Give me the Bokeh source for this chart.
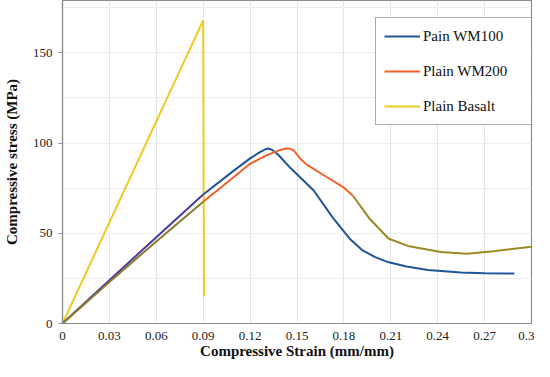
from bokeh.plotting import figure
from bokeh.models import Range1d, FixedTicker, Legend, LegendItem
from bokeh.embed import file_html
from bokeh.resources import INLINE

# Data (strain mm/mm, stress MPa)
wm100_x = [0, 0.03, 0.06, 0.09, 0.11, 0.12, 0.126, 0.13, 0.1315, 0.134, 0.138, 0.146, 0.1607, 0.173,
           0.1837, 0.192, 0.2, 0.2087, 0.22, 0.2337, 0.2547, 0.27, 0.289]
wm100_y = [0, 24, 47.8, 71.5, 85, 91.5, 94.8, 96.6, 97, 96.3, 93.5, 86, 73.7, 58.5,
           47, 40.5, 36.8, 33.9, 31.6, 29.7, 28.2, 27.8, 27.7]

wm200_x = [0, 0.03, 0.06, 0.09, 0.11, 0.12, 0.13, 0.138, 0.142, 0.145, 0.148, 0.152, 0.1565, 0.169,
           0.1795, 0.1858, 0.191, 0.196, 0.2087, 0.221, 0.242, 0.2588, 0.2755, 0.2985, 0.3]
wm200_y = [0, 23, 45.5, 67.5, 81.5, 88.5, 93, 95.8, 96.8, 97, 95.8, 91.5, 87.9, 81.2,
           75.6, 70.8, 64.5, 58.5, 47, 43, 39.6, 38.6, 40, 42.4, 42.6]

basalt_x = [0, 0.09, 0.0905]
basalt_y = [0, 168, 15]

series_names = ["Pain WM100", "Plain WM200", "Plain Basalt"]
x_ticks = [0, 0.03, 0.06, 0.09, 0.12, 0.15, 0.18, 0.21, 0.24, 0.27, 0.3]
x_tick_labels = ["0", "0.03", "0.06", "0.09", "0.12", "0.15", "0.18", "0.21", "0.24", "0.27", "0.3"]
y_ticks = [0, 50, 100, 150]
y_grid = [25, 50, 75, 100, 125, 150, 175]

FONT = "Liberation Serif"

p = figure(width=534, height=361, output_backend="svg", toolbar_location=None,
           x_range=Range1d(0, 0.3), y_range=Range1d(0, 179),
           min_border_left=52, min_border_right=3, min_border_top=0, min_border_bottom=0)
p.background_fill_color = "white"
p.border_fill_color = "white"
p.outline_line_color = "#8c8c8c"
p.outline_line_width = 1.2

p.xaxis.ticker = FixedTicker(ticks=x_ticks)
p.xaxis.major_label_overrides = {t: l for t, l in zip(x_ticks, x_tick_labels)}
p.yaxis.ticker = FixedTicker(ticks=y_ticks)
p.xgrid.ticker = FixedTicker(ticks=x_ticks)
p.ygrid.ticker = FixedTicker(ticks=y_grid)
p.xgrid.grid_line_color = "#e4e4e4"
p.ygrid.grid_line_color = "#eeeeee"

for ax in (p.xaxis, p.yaxis):
    ax.axis_line_color = "#8c8c8c"
    ax.axis_line_width = 1.2
    ax.minor_tick_line_color = None
    ax.major_label_text_font = FONT
    ax.major_label_text_font_size = "13px"
    ax.major_label_text_color = "#222222"
    ax.axis_label_text_font = FONT
    ax.axis_label_text_font_size = "15px"
    ax.axis_label_text_font_style = "bold"
    ax.axis_label_text_color = "#111111"

p.xaxis.major_tick_line_color = None
p.xaxis.major_tick_out = 0
p.xaxis.major_tick_in = 0
p.xaxis.major_label_standoff = 8
p.yaxis.major_tick_line_color = "#8c8c8c"
p.yaxis.major_tick_out = 4
p.yaxis.major_tick_in = 0
p.yaxis.major_label_standoff = 6
p.xaxis.axis_label = "Compressive Strain (mm/mm)"
p.yaxis.axis_label = "Compressive stress (MPa)"
p.xaxis.axis_label_standoff = 0
p.yaxis.axis_label_standoff = 10


def split(xs, ys, lo, hi):
    sx, sy = [], []
    for x, y in zip(xs, ys):
        if lo <= x <= hi:
            sx.append(x)
            sy.append(y)
    return sx, sy


# Plain Basalt
r3 = p.line(basalt_x, basalt_y, line_color="#EACB1E", line_width=2)

# WM100 (blue, purple-tinted on the shared initial segment)
bx0, by0 = split(wm100_x, wm100_y, 0, 0.09)
bx1, by1 = split(wm100_x, wm100_y, 0.09, 1)
p.line(bx0, by0, line_color="#4a3a9c", line_width=2)
r1 = p.line(bx1, by1, line_color="#1f5597", line_width=2)

# WM200 (orange, olive where overlapped)
ox0, oy0 = split(wm200_x, wm200_y, 0, 0.09)
ox1, oy1 = split(wm200_x, wm200_y, 0.09, 0.1858)
ox2, oy2 = split(wm200_x, wm200_y, 0.1858, 1)
p.line(ox0, oy0, line_color="#8a7a2c", line_width=2)
r2 = p.line(ox1, oy1, line_color="#F2602A", line_width=2)
p.line(ox2, oy2, line_color="#9a8a26", line_width=2)

legend = Legend(items=[LegendItem(label=series_names[0], renderers=[r1]),
                       LegendItem(label=series_names[1], renderers=[r2]),
                       LegendItem(label=series_names[2], renderers=[r3])],
                location=(313, 198))
legend.label_text_font = FONT
legend.label_text_font_size = "15px"
legend.label_text_color = "#111111"
legend.border_line_color = "#555555"
legend.border_line_width = 1
legend.padding = 8
legend.margin = 0
legend.spacing = 15
legend.glyph_width = 36
legend.glyph_height = 20
legend.label_height = 20
legend.label_standoff = 3
legend.label_width = 103
legend.background_fill_color = "white"
legend.background_fill_alpha = 1
p.add_layout(legend, "center")

open("out.html", "w").write(file_html(p, INLINE))
